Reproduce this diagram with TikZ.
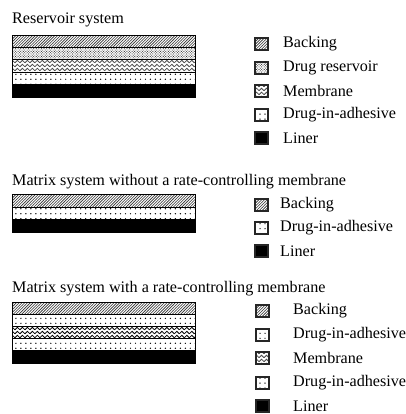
\documentclass[tikz,border=0pt]{standalone}
\usepackage{fontspec}
\setmainfont{Liberation Serif}
\usetikzlibrary{patterns}
\pgfdeclarepatternformonly{sparsedots}{\pgfqpoint{-1pt}{-1pt}}{\pgfqpoint{6pt}{6pt}}{\pgfqpoint{5pt}{5pt}}{%
  \pgfpathcircle{\pgfqpoint{1pt}{1pt}}{0.7pt}\pgfusepath{fill}}
\pgfdeclarepatternformonly{densedots}{\pgfqpoint{-1pt}{-1pt}}{\pgfqpoint{4pt}{4pt}}{\pgfqpoint{2.6pt}{2.6pt}}{%
  \pgfpathcircle{\pgfqpoint{0pt}{0pt}}{0.6pt}\pgfpathcircle{\pgfqpoint{1.3pt}{1.3pt}}{0.5pt}\pgfusepath{fill}}
\pgfdeclarepatternformonly{zigzag}{\pgfqpoint{-1pt}{-1pt}}{\pgfqpoint{6pt}{5pt}}{\pgfqpoint{5pt}{4pt}}{%
  \pgfsetlinewidth{0.8pt}%
  \pgfpathmoveto{\pgfqpoint{0pt}{0.5pt}}\pgfpathlineto{\pgfqpoint{2.5pt}{3pt}}\pgfpathlineto{\pgfqpoint{5pt}{0.5pt}}\pgfusepath{stroke}}
\pgfdeclarepatternformonly{diaglines}{\pgfqpoint{-1pt}{-1pt}}{\pgfqpoint{4pt}{4pt}}{\pgfqpoint{2.8pt}{2.8pt}}{%
  \pgfsetlinewidth{0.6pt}%
  \pgfpathmoveto{\pgfqpoint{-0.1pt}{-0.1pt}}\pgfpathlineto{\pgfqpoint{2.9pt}{2.9pt}}\pgfusepath{stroke}}
\begin{document}
\begin{tikzpicture}[x=1bp,y=-1bp,
  lay/.style={draw=black, line width=0.9pt},
  sw/.style={draw=black!85, line width=1.1pt},
  lbl/.style={anchor=west, inner sep=0pt, font=\fontsize{16.2}{19}\selectfont},
  backing/.style={pattern=diaglines, pattern color=black!80},
  reservoir/.style={pattern=densedots, pattern color=black!80},
  membrane/.style={pattern=zigzag},
  dia/.style={pattern=sparsedots},
  liner/.style={fill=black}]
\useasboundingbox (0,0) rectangle (406,414);

% ---------- Reservoir system ----------
\node[lbl] (t1) at (12,20) {Reservoir system};
\draw[lay,backing]   (12,35) rectangle (195,47);
\draw[lay,reservoir] (12,47) rectangle (195,59);
\draw[lay,membrane,pattern color=black!70] (12,59) rectangle (195,72);
\draw[lay,dia]       (12,72) rectangle (195,84);
\draw[lay,liner]     (12,84) rectangle (195,97);

\draw[sw,backing]   (255,38) rectangle (268,50);
\draw[sw,reservoir] (255,62) rectangle (268,74);
\draw[sw,membrane,pattern color=black!70] (255,85) rectangle (268,97);
\draw[sw,dia]       (255,109) rectangle (268,121);
\draw[sw,liner]     (255,132) rectangle (268,144);
\node[lbl] (l1a) at (283,44)  {Backing};
\node[lbl] (l1b) at (283,68)  {Drug reservoir};
\node[lbl] (l1c) at (283,91)  {Membrane};
\node[lbl] (l1d) at (283,115) {Drug-in-adhesive};
\node[lbl] (l1e) at (283,138) {Liner};

% ---------- Matrix without membrane ----------
\node[lbl] (t2) at (12,182) {Matrix system without a rate-controlling membrane};
\draw[lay,backing] (12,194) rectangle (195,207);
\draw[lay,dia]     (12,207) rectangle (195,219);
\draw[lay,liner]   (12,219) rectangle (195,232);

\draw[sw,backing] (255,199) rectangle (268,211);
\draw[sw,dia]     (255,222) rectangle (268,234);
\draw[sw,liner]   (255,245) rectangle (268,257);
\node[lbl] (l2a) at (280,205) {Backing};
\node[lbl] (l2b) at (280,228) {Drug-in-adhesive};
\node[lbl] (l2c) at (280,251) {Liner};

% ---------- Matrix with membrane ----------
\node[lbl] (t3) at (12,289) {Matrix system with a rate-controlling membrane};
\draw[lay,backing]  (12,302) rectangle (195,314);
\draw[lay,dia]      (12,314) rectangle (195,326);
\draw[lay,membrane] (12,326) rectangle (195,338);
\draw[lay,dia]      (12,338) rectangle (195,350);
\draw[lay,liner]    (12,350) rectangle (195,363);

\draw[sw,backing]  (256,305) rectangle (269,317);
\draw[sw,dia]      (256,329) rectangle (269,341);
\draw[sw,membrane,pattern color=black!70] (256,352) rectangle (269,364);
\draw[sw,dia]      (256,377) rectangle (269,389);
\draw[sw,liner]    (256,400) rectangle (269,412);
\node[lbl] (l3a) at (293,311) {Backing};
\node[lbl] (l3b) at (293,335) {Drug-in-adhesive};
\node[lbl] (l3c) at (293,358) {Membrane};
\node[lbl] (l3d) at (293,383) {Drug-in-adhesive};
\node[lbl] (l3e) at (293,406) {Liner};
\end{tikzpicture}
\end{document}
